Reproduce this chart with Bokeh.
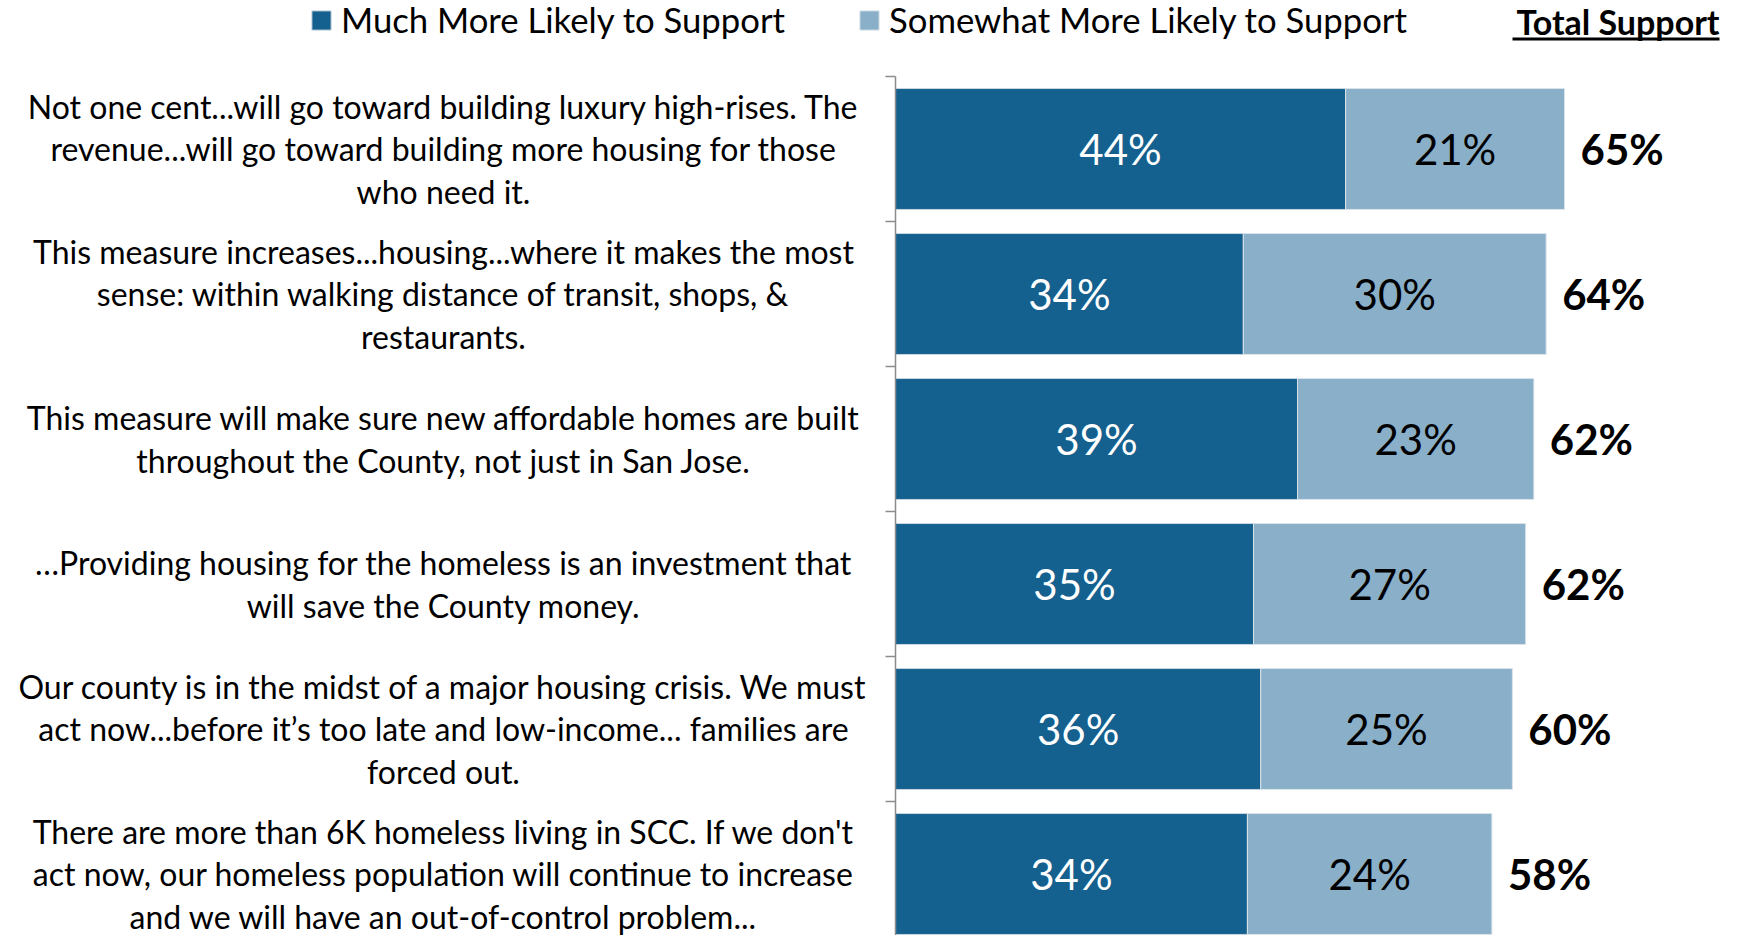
from bokeh.plotting import figure
from bokeh.models import Range1d, ColumnDataSource, Legend, LegendItem
from bokeh.core.properties import value
from bokeh.embed import file_html
from bokeh.resources import INLINE

# ---------------- data ----------------
statements = [
    "Not one cent...will go toward building luxury high-rises. The\nrevenue...will go toward building more housing for those\nwho need it.",
    "This measure increases...housing...where it makes the most\nsense: within walking distance of transit, shops, &\nrestaurants.",
    "This measure will make sure new affordable homes are built\nthroughout the County, not just in San Jose.",
    "\u2026Providing housing for the homeless is an investment that\nwill save the County money.",
    "Our county is in the midst of a major housing crisis. We must\nact now...before it\u2019s too late and low-income... families are\nforced out.",
    "There are more than 6K homeless living in SCC. If we don't\nact now, our homeless population will continue to increase\nand we will have an out-of-control problem...",
]
much_more = [44.0, 34.0, 39.3, 35.0, 35.7, 34.4]
somewhat_more = [21.4, 29.6, 23.1, 26.6, 24.6, 23.9]
much_labels = ["44%", "34%", "39%", "35%", "36%", "34%"]
somewhat_labels = ["21%", "30%", "23%", "27%", "25%", "24%"]
total_labels = ["65%", "64%", "62%", "62%", "60%", "58%"]
series_names = ["Much More Likely to Support", "Somewhat More Likely to Support"]

# ---------------- layout constants ----------------
W, H = 1729, 935
X0 = 895.0      # pixel of 0%
K = 10.23       # pixels per percent
ROW = 145.0     # pixels per category
Y0 = 148.5      # pixel of first category centre

def px2x(px):
    return (px - X0) / K

def px2y(py):
    return (py - Y0) / ROW

DARK = "#14608f"
LIGHT = "#89afc9"
FONT = "Lato"

n = len(statements)
idx = list(range(n))
ends = [m + s for m, s in zip(much_more, somewhat_more)]
src = ColumnDataSource(dict(
    y=idx, stmt=statements, much=much_more, some=somewhat_more, end=ends,
    much_mid=[m / 2 for m in much_more],
    some_mid=[m + s / 2 for m, s in zip(much_more, somewhat_more)],
    ml=much_labels, sl=somewhat_labels, tl=total_labels,
))

p = figure(width=W, height=H, output_backend="svg", toolbar_location=None,
           x_range=Range1d(px2x(0), px2x(W)), y_range=Range1d(px2y(H), px2y(0)),
           min_border=0, outline_line_color=None)
p.axis.visible = False
p.grid.visible = False

# bars
r1 = p.hbar(y="y", left=0, right="much", height=0.834, source=src,
            fill_color=DARK, line_color="#c9d5de", line_width=1)
r2 = p.hbar(y="y", left="much", right="end", height=0.834, source=src,
            fill_color=LIGHT, line_color="#dbe4ea", line_width=1)

# category axis (line + outward ticks at category boundaries)
bounds = [i - 0.5 for i in range(n + 1)]
p.segment(x0=[0], y0=[bounds[0]], x1=[0], y1=[bounds[-1]], line_color="#8c8c8c", line_width=1.5)
p.segment(x0=[px2x(X0 - 10)] * len(bounds), y0=bounds, x1=[0] * len(bounds), y1=bounds,
          line_color="#8c8c8c", line_width=1.5)

# statement labels
p.text(x=px2x(443), y="y", text="stmt", source=src, text_align="center",
       text_baseline="middle", text_font=value(FONT), text_font_size="32px",
       text_line_height=1.08, text_color="black")

# value labels
p.text(x="much_mid", y="y", text="ml", source=src, text_align="center",
       text_baseline="middle", text_font=value(FONT), text_font_size="42px",
       text_color="white")
p.text(x="some_mid", y="y", text="sl", source=src, text_align="center",
       text_baseline="middle", text_font=value(FONT), text_font_size="42px",
       text_color="black")
p.text(x="end", y="y", text="tl", source=src, text_align="left", x_offset=16,
       text_baseline="middle", text_font=value(FONT), text_font_size="42px",
       text_font_style="bold", text_color="black")

# header "Total Support" with underline
p.text(x=[px2x(1719)], y=[px2y(21)], text=["Total Support"], text_align="right",
       text_baseline="middle", text_font=value(FONT), text_font_size="34px",
       text_font_style="bold", text_color="black")
p.segment(x0=[px2x(1512)], y0=[px2y(38.5)], x1=[px2x(1719)], y1=[px2y(38.5)],
          line_color="black", line_width=3)

# legends
for r, name, xloc in [(r1, series_names[0], 309), (r2, series_names[1], 857)]:
    lg = Legend(items=[LegendItem(label=name, renderers=[r])],
                location=(xloc, H - 40), orientation="horizontal",
                border_line_color=None, background_fill_alpha=0,
                padding=0, margin=0, spacing=0,
                glyph_width=24, glyph_height=24, label_standoff=8,
                label_text_font=FONT, label_text_font_size="34.7px",
                label_text_color="black")
    p.add_layout(lg)

open("out.html", "w").write(file_html(p, INLINE))
